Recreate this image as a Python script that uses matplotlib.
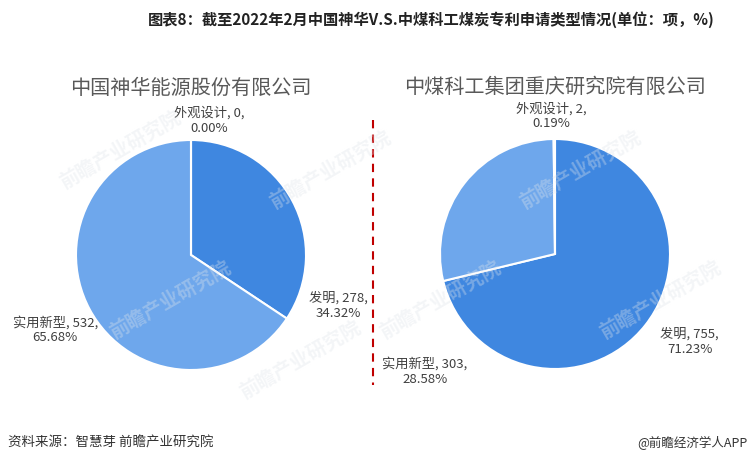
import matplotlib
matplotlib.use("Agg")
import matplotlib.pyplot as plt

plt.rcParams['font.family'] = ['Noto Sans CJK SC', 'DejaVu Sans']

W, H = 756, 465

categories = ["发明", "实用新型", "外观设计"]
shenhua_vals = [278, 532, 0]
shenhua_pct = ["34.32%", "65.68%", "0.00%"]
zhongmei_vals = [755, 303, 2]
zhongmei_pct = ["71.23%", "28.58%", "0.19%"]

colors = ["#3F87E0", "#6EA7EC", "#7DB1F0"]
label_color = "#404040"

fig = plt.figure(figsize=(W / 100, H / 100), dpi=100)
fig.patch.set_facecolor("white")

fig.text(148 / W, 1 - 20 / H, "图表8：截至2022年2月中国神华V.S.中煤科工煤炭专利申请类型情况(单位：项，%)",
         ha="left", va="center", fontsize=11, fontweight="bold", color="#222222")


def pie_axes(cx, cy, r):
    ax = fig.add_axes([(cx - r) / W, 1 - (cy + r) / H, 2 * r / W, 2 * r / H])
    return ax


def finish(ax):
    ax.set_xlim(-1, 1)
    ax.set_ylim(-1, 1)
    ax.set_aspect("equal")
    ax.axis("off")


R = 115
ax1 = pie_axes(191, 255, R)
ax1.pie(shenhua_vals, colors=colors, startangle=90, counterclock=False, radius=1,
        wedgeprops=dict(edgecolor="white", linewidth=1.5))
finish(ax1)
ax1.text(0, 1.45, "中国神华能源股份有限公司", ha="center", va="center", fontsize=14.5, color="#595959")
left_pos = [(1.28, -0.44), (-1.18, -0.65), (0.157, 1.17)]
for name, v, p, (x, y) in zip(categories, shenhua_vals, shenhua_pct, left_pos):
    ax1.text(x, y, f"{name}, {v},\n{p}", ha="center", va="center", fontsize=9.5,
             color=label_color, linespacing=1.2, clip_on=False)

ax2 = pie_axes(555, 254, R)
ax2.pie(zhongmei_vals, colors=colors, startangle=90, counterclock=False, radius=1,
        wedgeprops=dict(edgecolor="white", linewidth=1.5))
finish(ax2)
ax2.text(0, 1.45, "中煤科工集团重庆研究院有限公司", ha="center", va="center", fontsize=14.5, color="#595959")
right_pos = [(1.17, -0.76), (-1.13, -1.02), (-0.035, 1.20)]
for name, v, p, (x, y) in zip(categories, zhongmei_vals, zhongmei_pct, right_pos):
    ax2.text(x, y, f"{name}, {v},\n{p}", ha="center", va="center", fontsize=9.5,
             color=label_color, linespacing=1.2, clip_on=False)

# faint watermarks
wm_pos = [(120, 150), (170, 300), (330, 170), (440, 300), (580, 170), (660, 300), (300, 360)]
for px, py in wm_pos:
    fig.text(px / W, 1 - py / H, "前瞻产业研究院", fontsize=14, color="#dfe4ea", alpha=0.35,
             rotation=30, ha="center", va="center", fontweight="bold")

# dashed divider
fig.add_artist(plt.Line2D([373 / W, 373 / W], [1 - 120 / H, 1 - 385 / H], color="#C00000",
                          linestyle=(0, (4, 3)), linewidth=1.5))

fig.text(8 / W, 1 - 443 / H, "资料来源：智慧芽 前瞻产业研究院", ha="left", va="center", fontsize=9.7, color="#333333")
fig.text(748 / W, 1 - 443 / H, "@前瞻经济学人APP", ha="right", va="center", fontsize=9, color="#333333")

fig.savefig("out.png", dpi=100, facecolor="white")
